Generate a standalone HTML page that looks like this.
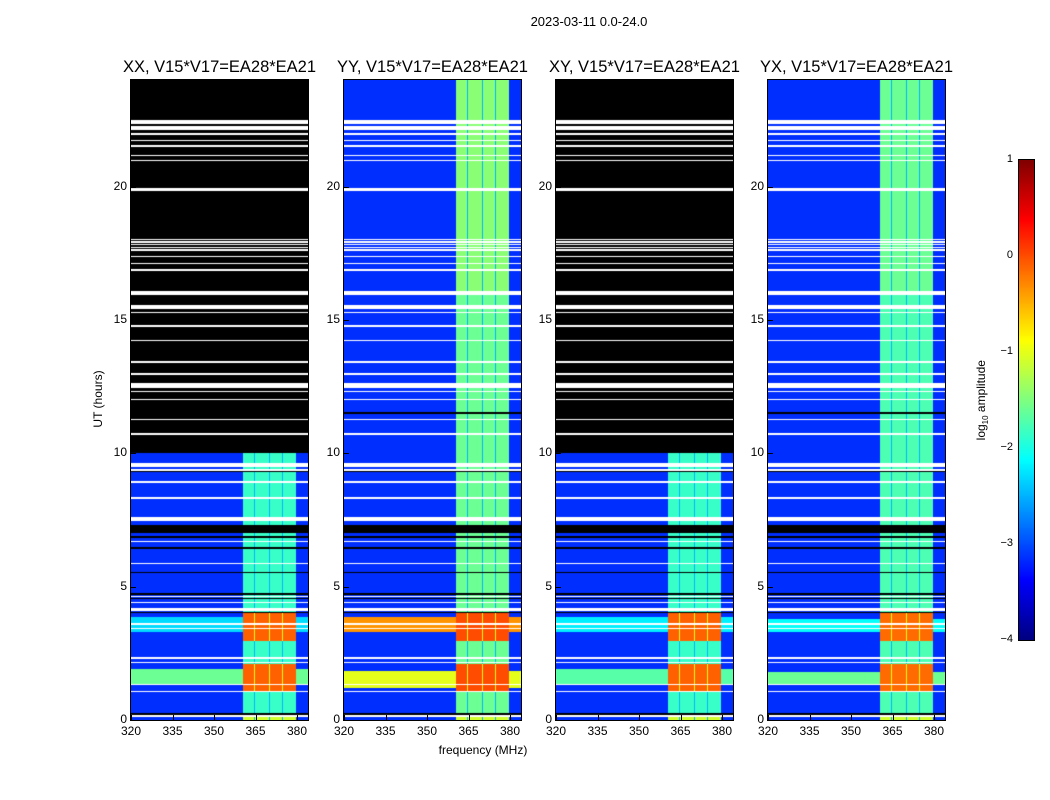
<!DOCTYPE html>
<html><head><meta charset="utf-8">
<style>
body{margin:0;background:#fff;font-family:"Liberation Sans","DejaVu Sans",sans-serif;}
#root{position:relative;width:1050px;height:800px;overflow:hidden;background:#fff;}
.t{position:absolute;color:#000;white-space:nowrap;}
canvas{position:absolute;}
.frame{position:absolute;border:1px solid #000;box-sizing:border-box;pointer-events:none;}
</style></head><body>
<div id="root">
<div class="t" style="left:489px;top:14px;width:200px;text-align:center;font-size:13px;">2023-03-11 0.0-24.0</div>
<div class="t" style="left:383px;top:743px;width:200px;text-align:center;font-size:12px;">frequency (MHz)</div>
<div class="t" style="left:48px;top:392px;width:100px;text-align:center;font-size:12px;transform:rotate(-90deg);">UT (hours)</div>
<canvas id="cbar" width="15" height="480" style="left:1019px;top:160px;"></canvas>
<div class="frame" style="left:1018px;top:159px;width:17px;height:482px;"></div>
<div class="t" style="left:922px;top:392px;width:120px;text-align:center;font-size:12px;transform:rotate(-90deg);">log<sub style="font-size:8px">10</sub> amplitude</div>
</div>
<script>
// ---- data ----
const panelTitles = ["XX, V15*V17=EA28*EA21","YY, V15*V17=EA28*EA21","XY, V15*V17=EA28*EA21","YX, V15*V17=EA28*EA21"];
const panelLefts = [131,344,556,768];
const xTicks = [320,335,350,365,380];
const yTicks = [0,5,10,15,20];
const cbarTicks = [1,0,-1,-2,-3,-4];
const spwEdges = [[360.5,364.6],[365.0,369.8],[370.2,374.6],[375.0,379.6]];
const whiteFlags = [[22.35,22.5],[22.12,22.27],[21.95,22.0],[21.7,21.75],[21.5,21.55],[21.15,21.2],[20.95,21.0],[19.85,19.95],[18.0,18.05],[17.9,17.95],[17.8,17.85],[17.7,17.75],[17.6,17.65],[17.35,17.4],[17.1,17.15],[16.85,16.9],[15.95,16.08],[15.4,15.55],[15.25,15.3],[14.75,14.8],[14.2,14.25],[13.4,13.45],[12.95,13.0],[12.45,12.65],[12.3,12.35],[12.0,12.05],[11.25,11.3],[10.7,10.75],[9.5,9.62],[9.35,9.4],[8.9,8.95],[8.3,8.35],[7.45,7.62],[6.67,6.72],[5.85,5.9],[4.6,4.65],[4.38,4.43],[4.1,4.2],[3.58,3.63],[3.4,3.45],[2.3,2.35],[2.12,2.17],[1.3,1.35],[1.05,1.1],[0.12,0.18]];
const blackFlags = [[11.48,11.55],[9.3,9.42],[7.0,7.3],[6.82,6.9],[6.4,6.5],[5.5,5.55],[4.7,4.75],[4.55,4.58],[4.0,4.05],[0.2,0.26]];
const blackAbove = [10,null,10,null];
const levelBackground = -3.15;
const levelBand = [-1.85,-1.6,-1.85,-1.75];
const levelGap = -2.5;
const rfiStrong = [[1.1,2.1],[2.95,4.0]];
const levelStrong = [-0.1,0.0,-0.1,-0.15];
const wideRfi = [
  [[1.3,1.9,-1.6],[3.3,3.85,-2.3]],
  [[1.2,1.85,-1.0],[3.3,3.85,-0.35]],
  [[1.3,1.9,-1.7],[3.3,3.85,-2.2]],
  [[1.3,1.8,-1.6],[3.3,3.8,-2.1]]
];
// ---- scales ----
const W=177,H=640,TOP=80;
const fx = f => (f-320)*(166/60);
const fy = h => H - h*(H/24);
const hourOf = py => (H-py)*(24/H);
const freqOf = px => 320 + px*(60/166);
function jet(x){const v=Math.max(0,Math.min(1,(x+4)/5));
  const c=t=>Math.round(255*Math.max(0,Math.min(1,t)));
  return [c(1.5-Math.abs(4*v-3)),c(1.5-Math.abs(4*v-2)),c(1.5-Math.abs(4*v-1))];}
const inR=(h,list)=>list.some(r=>h>=r[0]&&h<r[1]);
function value(p,h,f){
  if(inR(h,whiteFlags)) return 'w';
  if(inR(h,blackFlags)) return 'k';
  if(blackAbove[p]!==null && h>=blackAbove[p]) return 'k';
  let spw=spwEdges.some(e=>f>=e[0]&&f<e[1]);
  let inBand=f>=spwEdges[0][0]&&f<spwEdges[3][1];
  if(inBand){
    if(!spw) return inR(h,rfiStrong)?-1.0:levelGap;
    if(inR(h,rfiStrong)) return levelStrong[p];
    if(h<0.12) return -1.1;
    return levelBand[p]+(h>16&&p%2==1?0.15:0);
  }
  for(const r of wideRfi[p]) if(h>=r[0]&&h<r[1]) return r[2];
  return levelBackground;
}
const root=document.getElementById('root');
panelLefts.forEach((L,p)=>{
  const cv=document.createElement('canvas');
  cv.width=W;cv.height=H;cv.style.left=L+'px';cv.style.top=TOP+'px';
  
  
  root.appendChild(cv);
  const ctx=cv.getContext('2d');const img=ctx.createImageData(W,H);
  for(let y=0;y<H;y++){const h=hourOf(y+0.5);
    for(let x=0;x<W;x++){const v=value(p,h,freqOf(x+0.5));
      let c=v==='w'?[255,255,255]:v==='k'?[0,0,0]:jet(v);
      const i=(y*W+x)*4;img.data[i]=c[0];img.data[i+1]=c[1];img.data[i+2]=c[2];img.data[i+3]=255;}}
  ctx.putImageData(img,0,0);
  const fr=document.createElement('div');fr.className='frame';
  
  
  fr.style.cssText=`left:${L-1}px;top:${TOP-1}px;width:${W+2}px;height:${H+2}px;`;
  root.appendChild(fr);
  const tt=document.createElement('div');tt.className='t';
  
  
  tt.style.cssText=`left:${L-40}px;top:58px;width:${W+80}px;text-align:center;font-size:16.5px;`;
  tt.textContent=panelTitles[p];root.appendChild(tt);
  xTicks.forEach(v=>{const d=document.createElement('div');d.className='t';
    
    
    d.style.cssText=`left:${L+fx(v)-20}px;top:724px;width:40px;text-align:center;font-size:12px;`;
    d.textContent=v;root.appendChild(d);
    const m=document.createElement('div');m.style.cssText=`position:absolute;left:${L+fx(v)}px;top:${TOP+H-5}px;width:1px;height:5px;background:#000;`;
    
    
    root.appendChild(m);});
  yTicks.forEach(v=>{const d=document.createElement('div');d.className='t';
    
    
    d.style.cssText=`left:${L-44}px;top:${TOP+fy(v)-8}px;width:40px;text-align:right;font-size:12px;`;
    d.textContent=v;root.appendChild(d);
    const m=document.createElement('div');m.style.cssText=`position:absolute;left:${L}px;top:${TOP+fy(v)}px;width:5px;height:1px;background:#000;`;
    
    
    root.appendChild(m);});
});
const cb=document.getElementById('cbar').getContext('2d');
for(let y=0;y<480;y++){const c=jet(1-(y+0.5)*5/480);cb.fillStyle=`rgb(${c})`;cb.fillRect(0,y,15,1);}
cbarTicks.forEach(v=>{const y=160+(1-v)*96;const d=document.createElement('div');d.className='t';
  
  
  d.style.cssText=`left:975px;top:${y-7}px;width:38px;text-align:right;font-size:11px;`;
  d.textContent=v<0?'\u2212'+(-v):v;root.appendChild(d);});
</script>
</body></html>
